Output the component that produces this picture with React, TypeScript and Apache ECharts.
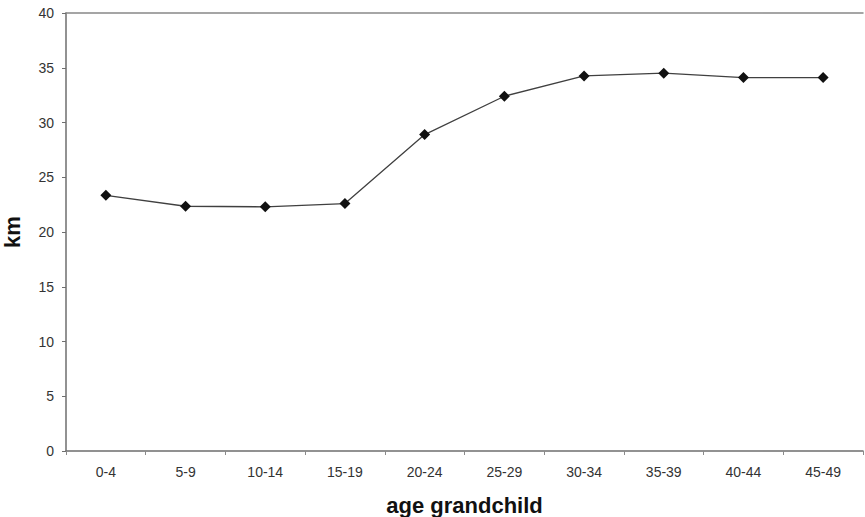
import React, { useEffect, useRef } from "react";
import * as echarts from "echarts";

const categories = ["0-4", "5-9", "10-14", "15-19", "20-24", "25-29", "30-34", "35-39", "40-44", "45-49"];
const kmValues = [23.35, 22.35, 22.3, 22.6, 28.9, 32.4, 34.25, 34.5, 34.1, 34.1];
const yTicks = { min: 0, max: 40, interval: 5 };

export default function App() {
  const ref = useRef<HTMLDivElement>(null);
  useEffect(() => {
    if (!ref.current) return;
    const chart = echarts.init(ref.current, null, { renderer: "svg" });
    const font = "Liberation Sans, Arial, sans-serif";
    chart.setOption({
      animation: false,
      backgroundColor: "#ffffff",
      grid: { left: 66, right: 2, top: 13, bottom: 66, containLabel: false, outerBoundsMode: "none" },
      xAxis: [
        {
          type: "category",
          data: categories,
          boundaryGap: true,
          axisLine: { show: true, lineStyle: { color: "#6e6e6e", width: 1.5 } },
          axisTick: { show: true, length: 4, alignWithLabel: false, lineStyle: { color: "#8a8a8a" } },
          axisLabel: { color: "#333", fontSize: 14, fontFamily: font, margin: 14 },
          name: "age grandchild",
          nameLocation: "middle",
          nameGap: 43,
          nameTextStyle: { color: "#111", fontSize: 22, fontWeight: "bold", fontFamily: font },
          splitLine: { show: false },
        },
        {
          type: "category",
          data: categories,
          position: "top",
          axisLine: { show: true, lineStyle: { color: "#888", width: 1.5 } },
          axisTick: { show: false },
          axisLabel: { show: false },
          splitLine: { show: false },
        },
      ],
      yAxis: {
        type: "value",
        min: yTicks.min,
        max: yTicks.max,
        interval: yTicks.interval,
        axisLine: { show: true, lineStyle: { color: "#6e6e6e", width: 1.5 } },
        axisTick: { show: true, length: 4, lineStyle: { color: "#6e6e6e" } },
        axisLabel: { color: "#333", fontSize: 14, fontFamily: font, margin: 12 },
        splitLine: { show: false },
        name: "km",
        nameLocation: "middle",
        nameGap: 43,
        nameRotate: 90,
        nameTextStyle: { color: "#111", fontSize: 22, fontWeight: "bold", fontFamily: font },
      },
      series: [
        {
          type: "line",
          data: kmValues,
          symbol: "diamond",
          symbolSize: 11,
          itemStyle: { color: "#111" },
          lineStyle: { color: "#404040", width: 1.3 },
        },
      ],
    });
    return () => chart.dispose();
  }, []);
  return <div ref={ref} style={{ width: 865, height: 517, position: "absolute", left: 0, top: 0 }} />;
}
